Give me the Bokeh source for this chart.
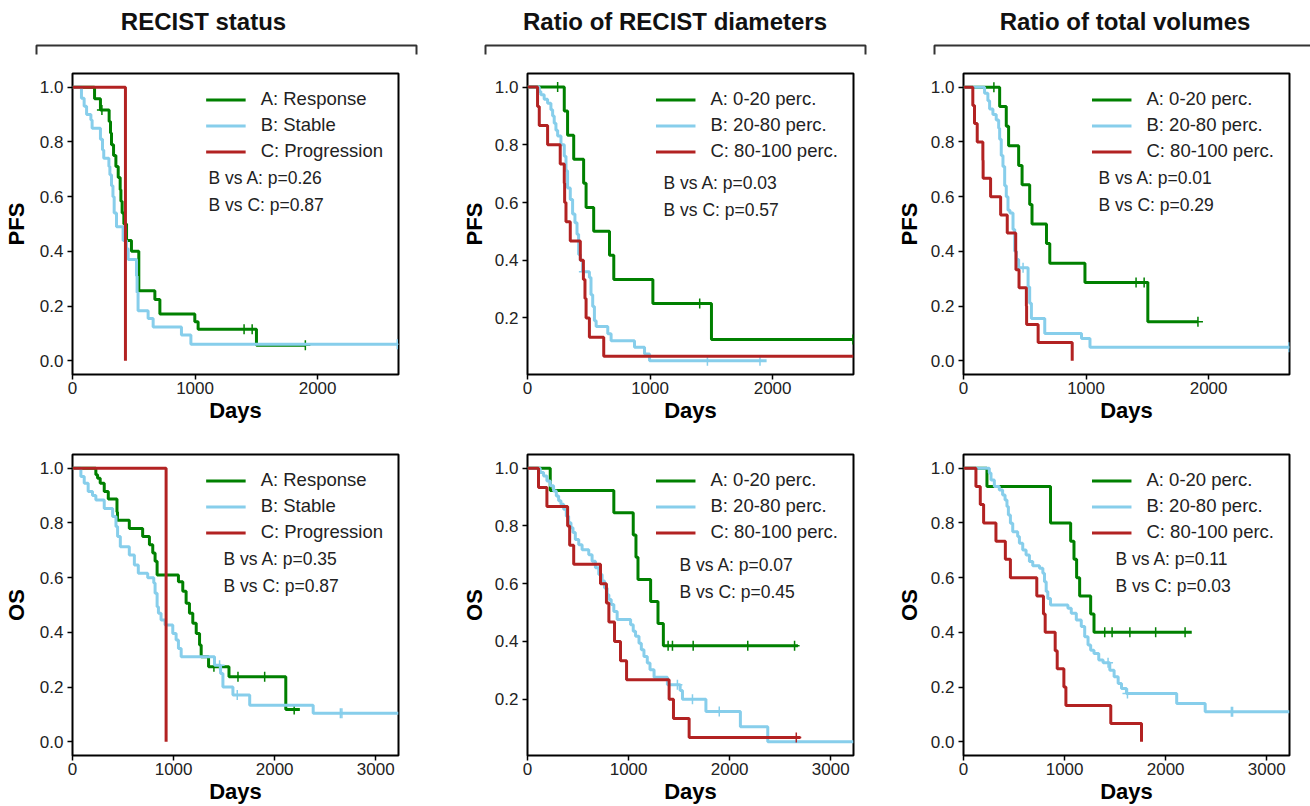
import math
from bokeh.plotting import figure
from bokeh.models import Range1d, Legend, LegendItem, Label, FixedTicker, PrintfTickFormatter
from bokeh.layouts import column, row
from bokeh.embed import file_html
from bokeh.resources import INLINE
from bokeh.core.properties import value

# ------------------------------------------------------------------ data
SECTION_TITLES = ["RECIST status", "Ratio of RECIST diameters", "Ratio of total volumes"]
LABELS_RECIST = ["A: Response", "B: Stable", "C: Progression"]
LABELS_PERC = ["A: 0-20 perc.", "B: 20-80 perc.", "C: 80-100 perc."]
X_TICKS_PFS = [0, 1000, 2000]
X_TICKS_OS = [0, 1000, 2000, 3000]
Y_TICKS = [0.0, 0.2, 0.4, 0.6, 0.8, 1.0]
X_MAX_PFS = 2660
X_MAX_OS = 3225

# PFS - RECIST status
PFS_RS_A_T = [180, 228, 299, 310, 318, 335, 354, 373, 389, 395, 405, 419, 441, 481, 541, 672, 713, 998, 1025, 1501]
PFS_RS_A_S = [0.958, 0.917, 0.875, 0.833, 0.79, 0.75, 0.71, 0.67, 0.625, 0.583, 0.54, 0.50, 0.44, 0.40, 0.256, 0.224, 0.171, 0.143, 0.115, 0.057]
PFS_RS_A_C = [240, 1400, 1466, 1900]
PFS_RS_A_END = 1900
PFS_RS_B_T = [73, 95, 115, 150, 160, 228, 245, 255, 297, 305, 318, 330, 340, 359, 413, 440, 454, 522, 527, 535, 617, 658, 889, 966]
PFS_RS_B_S = [0.96, 0.93, 0.90, 0.88, 0.85, 0.81, 0.77, 0.74, 0.71, 0.68, 0.64, 0.60, 0.54, 0.49, 0.44, 0.41, 0.37, 0.31, 0.25, 0.183, 0.155, 0.124, 0.094, 0.061]
PFS_RS_B_C = [2650]
PFS_RS_B_END = 2650
PFS_RS_C_T = [432]
PFS_RS_C_S = [0.0]
PFS_RS_C_C = []
PFS_RS_C_END = 432
PFS_RS_P = ["B vs A: p=0.26", "B vs C: p=0.87"]

# PFS - ratio of RECIST diameters
PFS_RD_A_T = [300, 327, 377, 458, 478, 540, 669, 704, 1023, 1501]
PFS_RD_A_S = [0.917, 0.833, 0.75, 0.667, 0.583, 0.5, 0.417, 0.333, 0.25, 0.125]
PFS_RD_A_C = [246, 1405, 2655]
PFS_RD_A_END = 2660
PFS_RD_B_T = [96, 109, 136, 164, 191, 205, 218, 232, 246, 273, 300, 314, 327, 349, 368, 387, 404, 417, 431, 450, 505, 518, 532, 546, 560, 655, 682, 873, 955, 996]
PFS_RD_B_S = [0.985, 0.973, 0.958, 0.944, 0.921, 0.90, 0.875, 0.85, 0.83, 0.80, 0.76, 0.71, 0.65, 0.61, 0.56, 0.53, 0.49, 0.42, 0.40, 0.36, 0.34, 0.28, 0.24, 0.19, 0.17, 0.145, 0.121, 0.098, 0.075, 0.052]
PFS_RD_B_C = [460, 1468, 1897]
PFS_RD_B_END = 1951
PFS_RD_C_T = [82, 96, 164, 267, 300, 303, 314, 349, 431, 456, 469, 478, 505, 622]
PFS_RD_C_S = [0.933, 0.867, 0.8, 0.733, 0.667, 0.6, 0.533, 0.467, 0.4, 0.333, 0.267, 0.2, 0.133, 0.067]
PFS_RD_C_C = []
PFS_RD_C_END = 2660
PFS_RD_P = ["B vs A: p=0.03", "B vs C: p=0.57"]

# PFS - ratio of total volumes
PFS_TV_A_T = [295, 349, 368, 450, 478, 540, 559, 677, 704, 991, 1504]
PFS_TV_A_S = [0.929, 0.857, 0.786, 0.714, 0.643, 0.571, 0.5, 0.429, 0.357, 0.286, 0.143]
PFS_TV_A_C = [248, 1408, 1474, 1913]
PFS_TV_A_END = 1913
PFS_TV_B_T = [172, 199, 213, 240, 267, 287, 295, 308, 322, 336, 349, 363, 379, 404, 418, 431, 450, 527, 540, 554, 663, 963, 1032]
PFS_TV_B_S = [0.978, 0.95, 0.92, 0.90, 0.88, 0.85, 0.81, 0.75, 0.71, 0.64, 0.60, 0.55, 0.54, 0.48, 0.40, 0.37, 0.34, 0.27, 0.21, 0.155, 0.10, 0.082, 0.05]
PFS_TV_B_C = [486, 2655]
PFS_TV_B_END = 2660
PFS_TV_C_T = [76, 90, 112, 158, 160, 221, 303, 357, 426, 428, 453, 513, 515, 609, 887]
PFS_TV_C_S = [0.933, 0.867, 0.8, 0.733, 0.667, 0.6, 0.533, 0.467, 0.4, 0.333, 0.267, 0.2, 0.133, 0.067, 0.0]
PFS_TV_C_C = []
PFS_TV_C_END = 887
PFS_TV_P = ["B vs A: p=0.01", "B vs C: p=0.29"]

# OS - RECIST status
OS_RS_A_T = [231, 248, 274, 314, 354, 440, 445, 562, 694, 761, 794, 817, 837, 1048, 1091, 1124, 1157, 1190, 1224, 1257, 1273, 1346, 1548, 2110]
OS_RS_A_S = [0.976, 0.963, 0.945, 0.915, 0.887, 0.84, 0.81, 0.78, 0.75, 0.72, 0.69, 0.66, 0.61, 0.585, 0.55, 0.506, 0.47, 0.433, 0.396, 0.354, 0.311, 0.274, 0.238, 0.118]
OS_RS_A_C = [1399, 1637, 1901, 2193]
OS_RS_A_END = 2249
OS_RS_B_T = [83, 116, 155, 198, 231, 314, 397, 430, 446, 473, 562, 612, 651, 744, 804, 817, 837, 850, 876, 916, 992, 1025, 1048, 1075, 1405, 1465, 1488, 1587, 1753, 2381]
OS_RS_B_S = [0.97, 0.945, 0.915, 0.90, 0.884, 0.853, 0.823, 0.787, 0.75, 0.713, 0.683, 0.646, 0.616, 0.6, 0.58, 0.543, 0.494, 0.47, 0.445, 0.427, 0.396, 0.372, 0.341, 0.311, 0.28, 0.25, 0.2, 0.171, 0.134, 0.104]
OS_RS_B_C = [1455, 1630, 2650, 2665]
OS_RS_B_END = 3225
OS_RS_C_T = [926]
OS_RS_C_S = [0.0]
OS_RS_C_C = []
OS_RS_C_END = 926
OS_RS_P = ["B vs A: p=0.35", "B vs C: p=0.87"]

# OS - ratio of RECIST diameters
OS_RD_A_T = [225, 854, 1046, 1073, 1093, 1218, 1291, 1344]
OS_RD_A_S = [0.923, 0.846, 0.769, 0.692, 0.615, 0.538, 0.462, 0.385]
OS_RD_A_C = [1391, 1434, 1639, 2179, 2642]
OS_RD_A_END = 2675
OS_RD_B_T = [126, 159, 192, 225, 258, 285, 308, 331, 358, 384, 407, 430, 450, 473, 507, 540, 606, 639, 672, 705,
             738, 762, 788, 805, 828, 854, 887, 1020, 1046, 1069, 1103, 1126, 1152, 1185, 1212, 1252, 1384, 1510,
             1533, 1765, 2106, 2377]
OS_RD_B_S = [0.985, 0.973, 0.956, 0.939, 0.921, 0.904, 0.887, 0.875, 0.858, 0.834, 0.811, 0.794, 0.777, 0.753,
             0.735, 0.718, 0.70, 0.678, 0.655, 0.632, 0.609, 0.585, 0.562, 0.545, 0.528, 0.504, 0.476, 0.458,
             0.435, 0.418, 0.394, 0.371, 0.348, 0.325, 0.302, 0.276, 0.25, 0.23, 0.2, 0.157, 0.105, 0.053]
OS_RD_B_C = [1483, 1632, 1897]
OS_RD_B_END = 3225
OS_RD_C_T = [109, 192, 397, 417, 457, 722, 781, 805, 861, 920, 980, 1401, 1444, 1599]
OS_RD_C_S = [0.933, 0.867, 0.8, 0.733, 0.667, 0.6, 0.533, 0.467, 0.4, 0.333, 0.267, 0.2, 0.133, 0.067]
OS_RD_C_C = [2659]
OS_RD_C_END = 2700
OS_RD_P = ["B vs A: p=0.07", "B vs C: p=0.45"]

# OS - ratio of total volumes
OS_TV_A_T = [232, 861, 1060, 1093, 1119, 1149, 1258, 1291]
OS_TV_A_S = [0.933, 0.8, 0.733, 0.667, 0.6, 0.533, 0.467, 0.4]
OS_TV_A_C = [1397, 1470, 1646, 1901, 2192]
OS_TV_A_END = 2258
OS_TV_B_T = [255, 272, 305, 354, 387, 411, 430, 444, 464, 487, 536, 553, 586, 619, 652, 685, 752, 785, 801, 818,
             834, 861, 1033, 1066, 1116, 1165, 1199, 1232, 1258, 1291, 1338, 1381, 1447, 1490, 1530, 1563, 1612,
             2109, 2391]
OS_TV_B_S = [0.982, 0.957, 0.933, 0.92, 0.902, 0.884, 0.86, 0.829, 0.799, 0.768, 0.75, 0.726, 0.701, 0.683,
             0.659, 0.643, 0.634, 0.616, 0.585, 0.549, 0.524, 0.5, 0.488, 0.47, 0.445, 0.421, 0.384, 0.354,
             0.335, 0.323, 0.299, 0.289, 0.262, 0.238, 0.213, 0.195, 0.177, 0.14, 0.11]
OS_TV_B_C = [1430, 1622, 2650, 2662]
OS_TV_B_END = 3225
OS_TV_C_T = [123, 166, 199, 321, 414, 464, 725, 791, 808, 907, 927, 993, 1013, 1457, 1761]
OS_TV_C_S = [0.933, 0.867, 0.8, 0.733, 0.667, 0.6, 0.533, 0.467, 0.4, 0.333, 0.267, 0.2, 0.133, 0.067, 0.0]
OS_TV_C_C = []
OS_TV_C_END = 1761
OS_TV_P = ["B vs A: p=0.11", "B vs C: p=0.03"]

# ------------------------------------------------------------------ style
FONT = "Liberation Sans"
COLORS = ["#008000", "#87CEEB", "#B22222"]
FW, FH = 326, 301
COL_BORDERS = [(71, 53), (76, 40), (70, 22)]
Y_LABEL_STANDOFF = [8, 5, 6]
ROW_BORDERS = [(13, 56), (24, 50)]
P_OFFSETS = [[(136, 104), (136, 109), (135, 104)],
             [(151, 104), (152, 110), (152, 104)]]


def km_xy(times, surv, end):
    xs = [0] + list(times)
    ys = [1.0] + list(surv)
    if end > xs[-1]:
        xs.append(end)
        ys.append(ys[-1])
    return xs, ys


def surv_at(times, surv, t):
    v = 1.0
    for ti, si in zip(times, surv):
        if ti <= t:
            v = si
    return v


def make_panel(curves, labels, pvals, xmax, yrange, xticks, ylabel, r, c):
    bl, br = COL_BORDERS[c]
    bt, bb = ROW_BORDERS[r]
    y0, y1 = yrange
    p = figure(frame_width=FW, frame_height=FH,
               min_border_left=bl, min_border_right=br,
               min_border_top=bt, min_border_bottom=bb,
               x_range=Range1d(0, xmax), y_range=Range1d(y0, y1),
               output_backend="svg", toolbar_location=None)
    p.xgrid.visible = False
    p.ygrid.visible = False
    p.outline_line_color = "black"
    p.outline_line_width = 2
    p.background_fill_color = "white"
    p.border_fill_color = "white"
    for ax in (p.xaxis[0], p.yaxis[0]):
        ax.axis_line_color = None
        ax.major_tick_line_color = "black"
        ax.major_tick_line_width = 1.5
        ax.major_tick_out = 5
        ax.major_tick_in = 0
        ax.minor_tick_line_color = None
        ax.major_label_text_font = FONT
        ax.major_label_text_font_size = "17px"
        ax.major_label_text_color = "#222222"
        ax.axis_label_text_font = FONT
        ax.axis_label_text_font_size = "22px"
        ax.axis_label_text_font_style = "bold"
        ax.axis_label_text_color = "black"
    p.xaxis.ticker = FixedTicker(ticks=xticks)
    p.yaxis.ticker = FixedTicker(ticks=Y_TICKS)
    p.yaxis.formatter = PrintfTickFormatter(format="%.1f")
    p.xaxis.major_label_standoff = 2
    p.yaxis.major_label_standoff = 4
    p.xaxis.axis_label = "Days"
    p.xaxis.axis_label_standoff = 1
    p.yaxis.axis_label = ylabel
    p.yaxis.axis_label_standoff = Y_LABEL_STANDOFF[c]

    renderers = []
    for (t, s, cens, end), col in zip(curves, COLORS):
        xs, ys = km_xy(t, s, end)
        rr = p.step(xs, ys, mode="after", line_color=col, line_width=3)
        renderers.append(rr)
        if cens:
            cy = [surv_at(t, s, cc) for cc in cens]
            p.scatter(cens, cy, marker="cross", size=10, line_color=col, line_width=1.5)

    legend = Legend(items=[LegendItem(label=lab, renderers=[rr]) for lab, rr in zip(labels, renderers)],
                    location="top_right", margin=5, padding=10, spacing=4,
                    glyph_width=40, glyph_height=21, label_height=21, label_standoff=15,
                    label_text_font=FONT, label_text_font_size="18.5px", label_text_color="#222222",
                    background_fill_alpha=0, border_line_alpha=0)
    p.add_layout(legend)

    sx = xmax / FW
    sy = (y1 - y0) / FH
    px, py = P_OFFSETS[r][c]
    for i, txt in enumerate(pvals):
        p.add_layout(Label(x=px * sx, y=y1 - (py + 27.5 * i) * sy, text=txt,
                           text_font=FONT, text_font_size="17.5px", text_color="#222222",
                           text_baseline="middle", text_align="left"))
    return p


# header with section titles and brackets
HEADER_X = [203, 674.5, 1124.5]
BRACKETS = [(36, 416), (485, 865), (934, 1315)]
header = figure(width=1310, height=60, x_range=Range1d(0, 1310), y_range=Range1d(60, 0),
                x_axis_type=None, y_axis_type=None, min_border=0,
                output_backend="svg", toolbar_location=None)
header.grid.visible = False
header.outline_line_color = None
header.text(x=HEADER_X, y=[21, 21, 21], text=SECTION_TITLES,
            text_font=value(FONT), text_font_style="bold", text_font_size="24px",
            text_align="center", text_baseline="middle", text_color="#111111")
header.multi_line(xs=[[a, a, b, b] for a, b in BRACKETS], ys=[[54, 45, 45, 54]] * 3,
                  line_color="#333333", line_width=2)

panels_def = [
    [((PFS_RS_A_T, PFS_RS_A_S, PFS_RS_A_C, PFS_RS_A_END),
      (PFS_RS_B_T, PFS_RS_B_S, PFS_RS_B_C, PFS_RS_B_END),
      (PFS_RS_C_T, PFS_RS_C_S, PFS_RS_C_C, PFS_RS_C_END)), LABELS_RECIST, PFS_RS_P, (-0.05, 1.05)],
    [((PFS_RD_A_T, PFS_RD_A_S, PFS_RD_A_C, PFS_RD_A_END),
      (PFS_RD_B_T, PFS_RD_B_S, PFS_RD_B_C, PFS_RD_B_END),
      (PFS_RD_C_T, PFS_RD_C_S, PFS_RD_C_C, PFS_RD_C_END)), LABELS_PERC, PFS_RD_P, (0.004, 1.047)],
    [((PFS_TV_A_T, PFS_TV_A_S, PFS_TV_A_C, PFS_TV_A_END),
      (PFS_TV_B_T, PFS_TV_B_S, PFS_TV_B_C, PFS_TV_B_END),
      (PFS_TV_C_T, PFS_TV_C_S, PFS_TV_C_C, PFS_TV_C_END)), LABELS_PERC, PFS_TV_P, (-0.05, 1.05)],
    [((OS_RS_A_T, OS_RS_A_S, OS_RS_A_C, OS_RS_A_END),
      (OS_RS_B_T, OS_RS_B_S, OS_RS_B_C, OS_RS_B_END),
      (OS_RS_C_T, OS_RS_C_S, OS_RS_C_C, OS_RS_C_END)), LABELS_RECIST, OS_RS_P, (-0.05, 1.05)],
    [((OS_RD_A_T, OS_RD_A_S, OS_RD_A_C, OS_RD_A_END),
      (OS_RD_B_T, OS_RD_B_S, OS_RD_B_C, OS_RD_B_END),
      (OS_RD_C_T, OS_RD_C_S, OS_RD_C_C, OS_RD_C_END)), LABELS_PERC, OS_RD_P, (0.005, 1.0475)],
    [((OS_TV_A_T, OS_TV_A_S, OS_TV_A_C, OS_TV_A_END),
      (OS_TV_B_T, OS_TV_B_S, OS_TV_B_C, OS_TV_B_END),
      (OS_TV_C_T, OS_TV_C_S, OS_TV_C_C, OS_TV_C_END)), LABELS_PERC, OS_TV_P, (-0.05, 1.05)],
]

figs = []
for i, (curves, labels, pv, yr) in enumerate(panels_def):
    r, c = divmod(i, 3)
    xmax = X_MAX_PFS if r == 0 else X_MAX_OS
    xt = X_TICKS_PFS if r == 0 else X_TICKS_OS
    yl = "PFS" if r == 0 else "OS"
    figs.append(make_panel(curves, labels, pv, xmax, yr, xt, yl, r, c))

layout = column(header, row(*figs[:3]), row(*figs[3:]))
open("out.html", "w").write(file_html(layout, INLINE))
